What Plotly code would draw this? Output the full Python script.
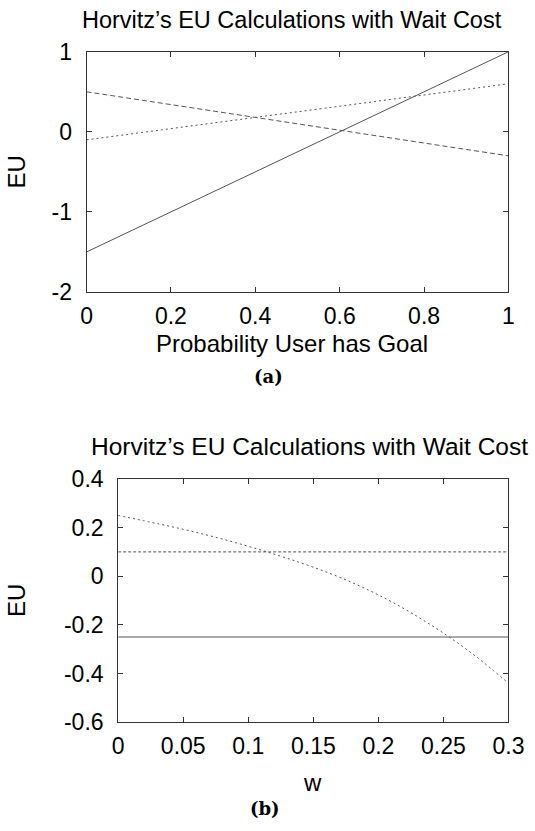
import plotly.graph_objects as go

W, H = 535, 831

# ---- data: panel (a) ----
prob = [0.0, 1.0]
eu_solid_a = [-1.5, 1.0]
eu_dashed_a = [0.5, -0.3]
eu_dotted_a = [-0.1, 0.6]
xa_ticks = [0, 0.2, 0.4, 0.6, 0.8, 1.0]
xa_labels = ["0", "0.2", "0.4", "0.6", "0.8", "1"]
ya_ticks = [-2, -1, 0, 1]
ya_labels = ["-2", "-1", "0", "1"]

# ---- data: panel (b) ----
w_flat = [0.0, 0.3]
eu_solid_b = [-0.25, -0.25]
eu_dashed_b = [0.1, 0.1]
w_curve = [0.0, 0.025, 0.05, 0.075, 0.1, 0.125, 0.15, 0.175, 0.2, 0.225, 0.25, 0.275, 0.3]
eu_dotted_b = [0.25, 0.222, 0.193, 0.160, 0.123, 0.082, 0.037, -0.015, -0.077, -0.150, -0.234, -0.330, -0.44]
xb_ticks = [0, 0.05, 0.1, 0.15, 0.2, 0.25, 0.3]
xb_labels = ["0", "0.05", "0.1", "0.15", "0.2", "0.25", "0.3"]
yb_ticks = [-0.6, -0.4, -0.2, 0, 0.2, 0.4]
yb_labels = ["-0.6", "-0.4", "-0.2", "0", "0.2", "0.4"]

title_text = "Horvitz’s EU Calculations with Wait Cost"

LINE = "#555555"
AXC = "#333333"
SANS = "Liberation Sans, Arial, sans-serif"
SERIF = "DejaVu Serif, serif"

def px(x):
    return x / W

def py(y):
    return 1 - y / H

fig = go.Figure()
fig.add_trace(go.Scatter(x=prob, y=eu_solid_a, mode="lines", line=dict(color=LINE, width=1), xaxis="x", yaxis="y"))
fig.add_trace(go.Scatter(x=prob, y=eu_dashed_a, mode="lines", line=dict(color=LINE, width=1, dash="5px,3px"), xaxis="x", yaxis="y"))
fig.add_trace(go.Scatter(x=prob, y=eu_dotted_a, mode="lines", line=dict(color=LINE, width=1, dash="2px,3px"), xaxis="x", yaxis="y"))

fig.add_trace(go.Scatter(x=w_flat, y=eu_solid_b, mode="lines", line=dict(color=LINE, width=1), xaxis="x2", yaxis="y2"))
fig.add_trace(go.Scatter(x=w_flat, y=eu_dashed_b, mode="lines", line=dict(color=LINE, width=1, dash="3px,2px"), xaxis="x2", yaxis="y2"))
fig.add_trace(go.Scatter(x=w_curve, y=eu_dotted_b, mode="lines", line=dict(color=LINE, width=1, dash="2px,3px", shape="spline"), xaxis="x2", yaxis="y2"))

axis_common = dict(
    showline=True, linecolor=AXC, linewidth=1, mirror="allticks",
    ticks="inside", ticklen=5, tickcolor=AXC, tickwidth=1,
    showgrid=False, zeroline=False,
    tickfont=dict(family=SANS, size=23, color="black"),
    fixedrange=True,
)

A_L, A_R, A_T, A_B = 84, 524, 40, 288
B_L, B_R, B_T, B_B = 117, 524, 481, 732

fig.update_layout(
    width=W, height=H,
    margin=dict(l=0, r=0, t=0, b=0),
    paper_bgcolor="white", plot_bgcolor="white",
    showlegend=False,
    xaxis=dict(domain=[px(A_L), px(A_R)], range=[0, 1], tickvals=xa_ticks, ticktext=xa_labels,
               anchor="y", ticklabelstandoff=3, **axis_common),
    yaxis=dict(domain=[py(A_B), py(A_T)], range=[-2, 1], tickvals=ya_ticks, ticktext=ya_labels,
               anchor="x", ticklabelstandoff=9, **axis_common),
    xaxis2=dict(domain=[px(B_L), px(B_R)], range=[0, 0.3], tickvals=xb_ticks, ticktext=xb_labels,
                anchor="y2", ticklabelstandoff=3, **axis_common),
    yaxis2=dict(domain=[py(B_B), py(B_T)], range=[-0.6, 0.4], tickvals=yb_ticks, ticktext=yb_labels,
                anchor="x2", ticklabelstandoff=9, **axis_common),
)

def ann(text, x, y, size, family=SANS, angle=0, bold=False):
    t = f"<b>{text}</b>" if bold else text
    fig.add_annotation(text=t, x=px(x), y=py(y), xref="paper", yref="paper",
                       xanchor="center", yanchor="middle", showarrow=False,
                       textangle=angle, font=dict(family=family, size=size, color="black"))

ann(title_text, 298, 7, 23.5)
ann("Probability User has Goal", 298, 341, 24)
ann("(a)", 274, 375, 18, family=SERIF, bold=True)
ann("EU", 11, (A_T + A_B) / 2, 24, angle=-90)

ann(title_text, 317, 447, 24.5)
ann("w", 320, 794, 24)
ann("(b)", 270, 821, 18, family=SERIF, bold=True)
ann("EU", 11, (B_T + B_B) / 2, 24, angle=-90)

fig.write_html("out.html")
